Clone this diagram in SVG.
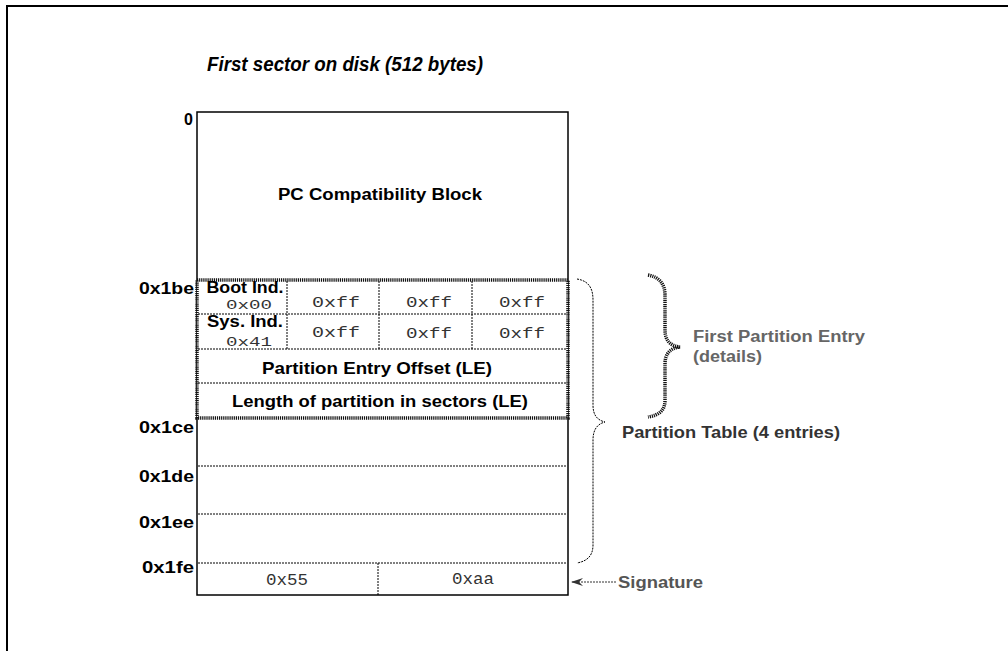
<svg xmlns="http://www.w3.org/2000/svg" width="1008" height="651" viewBox="0 0 1008 651">
<style>
.b{font-family:"Liberation Sans",Arial,sans-serif;font-weight:bold;fill:#000}
.lbl{font-family:"Liberation Sans",Arial,sans-serif;font-weight:bold;font-size:16px;fill:#000;text-anchor:end}
.m{font-family:"Liberation Mono","Courier New",monospace;fill:#333;text-anchor:middle}
.h{font-family:"Liberation Sans",Arial,sans-serif;font-weight:bold}
.sol{fill:none;stroke:#000;stroke-width:1.5}
.dsh{fill:none;stroke:#000;stroke-width:1;stroke-dasharray:2 1}
.dot{fill:none;stroke:#111;stroke-width:3.5;stroke-dasharray:1.2 0.9}
</style>
<defs>
<marker id="ah" markerWidth="12" markerHeight="8" refX="11" refY="4" orient="auto" markerUnits="userSpaceOnUse">
<path d="M0,0 L12,4 L0,8 L4,4 Z" fill="#333"/>
</marker>
</defs>
<rect width="1008" height="651" fill="#fff"/>
<path d="M7,651 L7,6 L1008,6" fill="none" stroke="#000" stroke-width="2"/>
<g id="title">
<text class="b" x="207" y="71" font-size="20" font-style="italic" textLength="276" lengthAdjust="spacingAndGlyphs">First sector on disk (512 bytes)</text>
</g>
<g id="offsets">
<text class="lbl" x="193" y="125" font-size="17">0</text>
<text class="lbl" x="194" y="294" textLength="55" lengthAdjust="spacingAndGlyphs">0x1be</text>
<text class="lbl" x="194" y="433" textLength="55" lengthAdjust="spacingAndGlyphs">0x1ce</text>
<text class="lbl" x="194" y="482" textLength="55" lengthAdjust="spacingAndGlyphs">0x1de</text>
<text class="lbl" x="194" y="528" textLength="55" lengthAdjust="spacingAndGlyphs">0x1ee</text>
<text class="lbl" x="194" y="573" textLength="52" lengthAdjust="spacingAndGlyphs">0x1fe</text>
</g>
<g id="sector">
<rect class="sol" x="197" y="112" width="371" height="483"/>
<text class="b" x="380" y="200" font-size="16" text-anchor="middle" textLength="204" lengthAdjust="spacingAndGlyphs">PC Compatibility Block</text>
</g>
<g id="partition-entry">
<rect x="197" y="280" width="371" height="138" fill="#fff"/>
<line class="dsh" x1="198" y1="314" x2="567" y2="314"/>
<line class="dsh" x1="198" y1="349" x2="567" y2="349"/>
<line class="dsh" x1="198" y1="383" x2="567" y2="383"/>
<line class="dsh" x1="287" y1="281" x2="287" y2="349"/>
<line class="dsh" x1="379" y1="281" x2="379" y2="349"/>
<line class="dsh" x1="472" y1="281" x2="472" y2="349"/>
<rect class="dot" x="197" y="280" width="371" height="138"/>
<text class="b" x="245" y="293" font-size="16" text-anchor="middle" textLength="77" lengthAdjust="spacingAndGlyphs">Boot Ind.</text>
<text class="m" x="249" y="309" font-size="13" textLength="46" lengthAdjust="spacingAndGlyphs">0x00</text>
<text class="m" x="336" y="307" font-size="14" textLength="48" lengthAdjust="spacingAndGlyphs">0xff</text>
<text class="m" x="429" y="307" font-size="14" textLength="46" lengthAdjust="spacingAndGlyphs">0xff</text>
<text class="m" x="522" y="307" font-size="14" textLength="46" lengthAdjust="spacingAndGlyphs">0xff</text>
<text class="b" x="245" y="327" font-size="16" text-anchor="middle" textLength="76" lengthAdjust="spacingAndGlyphs">Sys. Ind.</text>
<text class="m" x="249" y="346" font-size="13" textLength="46" lengthAdjust="spacingAndGlyphs">0x41</text>
<text class="m" x="336" y="337" font-size="14" textLength="48" lengthAdjust="spacingAndGlyphs">0xff</text>
<text class="m" x="429" y="338" font-size="14" textLength="46" lengthAdjust="spacingAndGlyphs">0xff</text>
<text class="m" x="522" y="338" font-size="14" textLength="46" lengthAdjust="spacingAndGlyphs">0xff</text>
<text class="b" x="377" y="374" font-size="17" text-anchor="middle" textLength="230" lengthAdjust="spacingAndGlyphs">Partition Entry Offset (LE)</text>
<text class="b" x="380" y="407" font-size="17" text-anchor="middle" textLength="296" lengthAdjust="spacingAndGlyphs">Length of partition in sectors (LE)</text>
</g>
<g id="entries">
<line class="dsh" x1="198" y1="466" x2="567" y2="466"/>
<line class="dsh" x1="198" y1="514" x2="567" y2="514"/>
<line class="dsh" x1="198" y1="563" x2="567" y2="563"/>
</g>
<g id="signature-bytes">
<line class="dsh" x1="378" y1="563" x2="378" y2="595"/>
<text class="m" x="287" y="585" font-size="16" textLength="42" lengthAdjust="spacingAndGlyphs">0x55</text>
<text class="m" x="473" y="584" font-size="16" textLength="42" lengthAdjust="spacingAndGlyphs">0xaa</text>
</g>
<g id="connectors">
<path class="dsh" d="M577,279 C590,281 593,290 593,300 L593,405 C593,415 597,420 605,422 C597,424 593,430 593,440 L593,545 C593,555 588,561 577,563"/>
<path class="dot" d="M648,275 C660,277 665,285 665,295 L665,330 C665,340 670,346 680,347 C670,348 665,354 665,364 L665,400 C665,410 660,415 648,417"/>
<line x1="616" y1="582" x2="572" y2="582" stroke="#333" stroke-width="1" stroke-dasharray="2 1" marker-end="url(#ah)"/>
</g>
<g id="annotations">
<text class="h" x="693" y="342" font-size="16" fill="#666" textLength="172" lengthAdjust="spacingAndGlyphs">First Partition Entry</text>
<text class="h" x="693" y="362" font-size="16" fill="#666" textLength="69" lengthAdjust="spacingAndGlyphs">(details)</text>
<text class="h" x="622" y="438" font-size="17" fill="#333" textLength="218" lengthAdjust="spacingAndGlyphs">Partition Table (4 entries)</text>
<text class="h" x="618" y="588" font-size="16" fill="#555" textLength="85" lengthAdjust="spacingAndGlyphs">Signature</text>
</g>
</svg>
